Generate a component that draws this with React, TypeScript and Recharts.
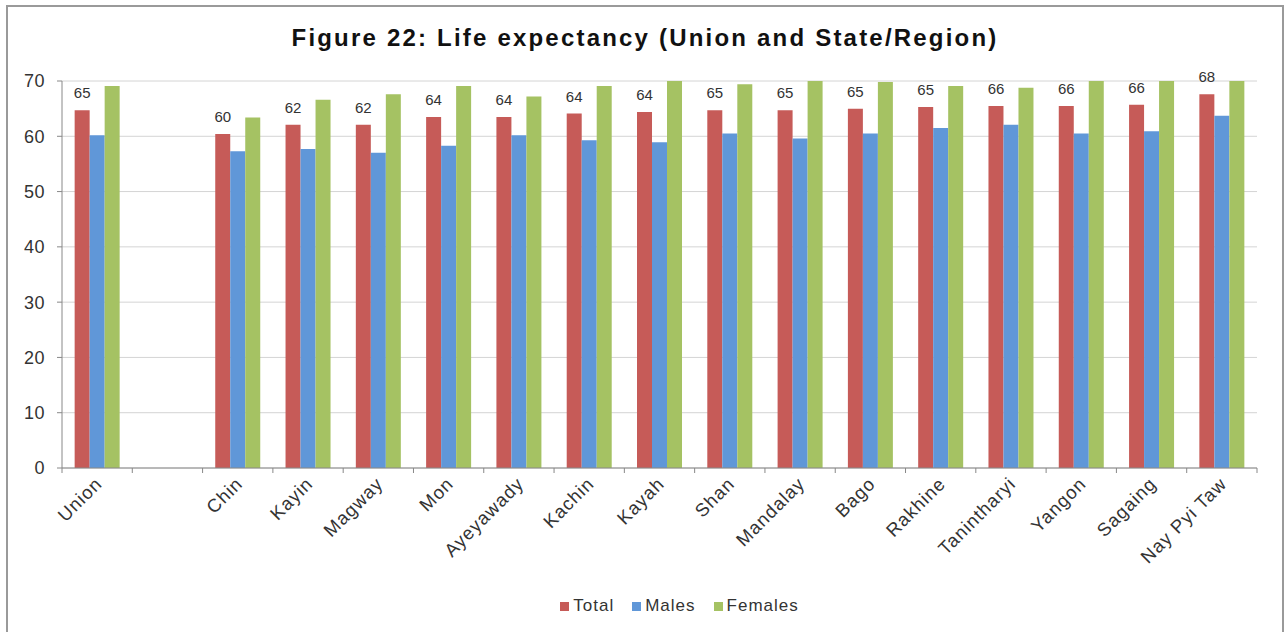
import { BarChart, Bar, XAxis, YAxis, CartesianGrid, Legend, LabelList } from "recharts";

const regions = [
  "Union", "", "Chin", "Kayin", "Magway", "Mon", "Ayeyawady", "Kachin", "Kayah",
  "Shan", "Mandalay", "Bago", "Rakhine", "Tanintharyi", "Yangon", "Sagaing", "Nay Pyi Taw",
];
const total = [64.7, null, 60.4, 62.1, 62.1, 63.5, 63.5, 64.1, 64.4, 64.7, 64.7, 65.0, 65.3, 65.5, 65.5, 65.7, 67.6];
const males = [60.2, null, 57.3, 57.7, 57.0, 58.3, 60.2, 59.3, 58.9, 60.5, 59.6, 60.5, 61.5, 62.1, 60.5, 60.9, 63.7];
const females = [69.1, null, 63.4, 66.6, 67.6, 69.1, 67.2, 69.1, 70.8, 69.4, 70.6, 69.8, 69.1, 68.8, 70.5, 71.0, 71.2];
const yTicks = [0, 10, 20, 30, 40, 50, 60, 70];
const seriesOrder = ["Total", "Males", "Females"];

const data = regions.map((name, i) => ({
  name,
  Total: total[i],
  Males: males[i],
  Females: females[i],
}));

const W = 1287;
const H = 632;
const PLOT_LEFT = 62;
const PLOT_RIGHT = 1257;
const band = (PLOT_RIGHT - PLOT_LEFT) / regions.length;
const FONT = "Liberation Sans, Arial, sans-serif";

const CatTick = (props: any) => {
  const { x, y, payload, index } = props;
  const axisY = y - 4;
  return (
    <g>
      <line x1={x - band / 2} x2={x - band / 2} y1={axisY} y2={axisY + 5} stroke="#888" />
      {index === regions.length - 1 && (
        <line x1={x + band / 2} x2={x + band / 2} y1={axisY} y2={axisY + 5} stroke="#888" />
      )}
      <text
        x={x + 6}
        y={y + 13}
        transform={`rotate(-45, ${x + 6}, ${y + 13})`}
        textAnchor="end"
        fontSize={18.5}
        letterSpacing={1}
        fill="#333"
        fontFamily={FONT}
      >
        {payload.value}
      </text>
    </g>
  );
};

export default function App() {
  return (
    <div style={{ position: "absolute", left: 0, top: 0, width: W, height: H, background: "#fff", overflow: "hidden", fontFamily: FONT }}>
      <div style={{ position: "absolute", left: 6, top: 5, width: 1274, height: 660, border: "2px solid #9a9a9a" }} />
      <div style={{ position: "absolute", left: 0, top: 24, width: 1290, textAlign: "center", fontSize: 24, letterSpacing: 2.2, fontWeight: "bold", color: "#111" }}>
        Figure 22: Life expectancy (Union and State/Region)
      </div>
      <div style={{ position: "absolute", left: 0, top: 0 }}>
        <BarChart
          width={W}
          height={H}
          data={data}
          margin={{ top: 81, right: W - PLOT_RIGHT, bottom: 0, left: 0 }}
          barCategoryGap="18%"
          barGap={0}
        >
          <CartesianGrid vertical={false} stroke="#d4d4d4" />
          <XAxis
            dataKey="name"
            interval={0}
            height={164}
            tickLine={false}
            tickSize={0}
            tickMargin={4}
            stroke="#888"
            tick={<CatTick />}
          />
          <YAxis
            width={PLOT_LEFT}
            domain={[0, 70]}
            ticks={yTicks}
            allowDataOverflow
            stroke="#888"
            tickSize={5}
            tickMargin={12}
            tick={{ fontSize: 18, fill: "#333", letterSpacing: 0.5 }}
          />
          <Legend
            layout="horizontal"
            verticalAlign="middle"
            align="center"
            iconType="square"
            iconSize={9}
            itemSorter={(item: any) => seriesOrder.indexOf(item.value)}
            wrapperStyle={{ top: 596, left: 45, width: W, fontSize: 17, color: "#333", letterSpacing: 1 }}
            formatter={(v: string) => <span style={{ color: "#333", marginRight: 8 }}>{v}</span>}
          />
          <Bar dataKey="Total" fill="#c65b58" isAnimationActive={false}>
            <LabelList
              dataKey="Total"
              position="top"
              offset={12}
              fontSize={15}
              fill="#333"
              formatter={(v: any) => (v == null ? "" : Math.round(v))}
            />
          </Bar>
          <Bar dataKey="Males" fill="#6097d8" isAnimationActive={false} />
          <Bar dataKey="Females" fill="#a5c263" isAnimationActive={false} />
        </BarChart>
      </div>
    </div>
  );
}
